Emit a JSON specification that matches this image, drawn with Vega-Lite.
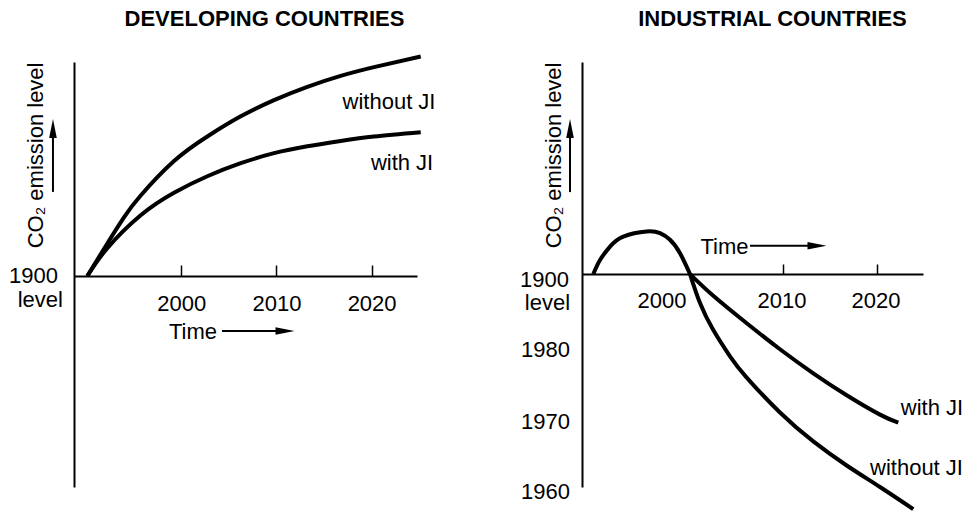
{
  "$schema": "https://vega.github.io/schema/vega-lite/v6.json",
  "autosize": {"type": "none"},
  "padding": {"left": 74, "top": 62, "right": 900, "bottom": 454},
  "bounds": "flush",
  "spacing": 165,
  "config": {
    "font": "Liberation Sans",
    "view": {"stroke": null},
    "text": {"fontSize": 22, "color": "black"}
  },
  "datasets": {
    "devCurves": [
      {"year": 1990.13, "level": 0, "scenario": "without JI"},
      {"year": 1992.23, "level": 15.2, "scenario": "without JI"},
      {"year": 1993.98, "level": 27.4, "scenario": "without JI"},
      {"year": 1995.74, "level": 37.6, "scenario": "without JI"},
      {"year": 1999.24, "level": 53.7, "scenario": "without JI"},
      {"year": 2002.74, "level": 65.2, "scenario": "without JI"},
      {"year": 2006.25, "level": 74.6, "scenario": "without JI"},
      {"year": 2009.75, "level": 82.2, "scenario": "without JI"},
      {"year": 2013.25, "level": 88.4, "scenario": "without JI"},
      {"year": 2016.75, "level": 93.5, "scenario": "without JI"},
      {"year": 2020.25, "level": 97.6, "scenario": "without JI"},
      {"year": 2025.16, "level": 102.6, "scenario": "without JI"},
      {"year": 1990.13, "level": 0, "scenario": "with JI"},
      {"year": 1992.23, "level": 13.0, "scenario": "with JI"},
      {"year": 1995.74, "level": 28.4, "scenario": "with JI"},
      {"year": 1999.24, "level": 38.9, "scenario": "with JI"},
      {"year": 2002.74, "level": 46.6, "scenario": "with JI"},
      {"year": 2006.25, "level": 52.7, "scenario": "with JI"},
      {"year": 2009.75, "level": 57.4, "scenario": "with JI"},
      {"year": 2013.25, "level": 60.6, "scenario": "with JI"},
      {"year": 2016.75, "level": 63.1, "scenario": "with JI"},
      {"year": 2020.25, "level": 65.2, "scenario": "with JI"},
      {"year": 2025.16, "level": 67.2, "scenario": "with JI"}
    ],
    "devLabels": [
      {"year": 2021.83, "level": 81.3, "label": "without JI"},
      {"year": 2023.2, "level": 52.8, "label": "with JI"},
      {"year": 2001.23, "level": -26.2, "label": "Time"}
    ],
    "devSide": [
      {"year": 1987.04, "level": 0, "label": "1900"},
      {"year": 1987.57, "level": -11.2, "label": "level"}
    ],
    "devArrowLines": [
      {"year": 2004.28, "level": -25.7, "year2": 2010.38, "level2": -25.7},
      {"year": 1986.52, "level": 39.3, "year2": 1986.52, "level2": 69.2}
    ],
    "devArrowHeads": [
      {"year": 2010.9, "level": -25.7, "dir": "right"},
      {"year": 1986.52, "level": 68.9, "dir": "up"}
    ],
    "indHump": [
      {"year": 1989.88, "level": 0},
      {"year": 1990.59, "level": 6.6},
      {"year": 1991.65, "level": 12.9},
      {"year": 1993.06, "level": 17.6},
      {"year": 1995.54, "level": 20.0},
      {"year": 1996.95, "level": 19.2},
      {"year": 1998.01, "level": 16.1},
      {"year": 1999.07, "level": 9.8},
      {"year": 2000.13, "level": 0}
    ],
    "indCurves": [
      {"year": 2000.13, "level": 0, "scenario": "with JI"},
      {"year": 2002.6, "level": -10.2, "scenario": "with JI"},
      {"year": 2006.14, "level": -23.1, "scenario": "with JI"},
      {"year": 2009.67, "level": -35.3, "scenario": "with JI"},
      {"year": 2013.2, "level": -46.6, "scenario": "with JI"},
      {"year": 2016.74, "level": -56.9, "scenario": "with JI"},
      {"year": 2020.27, "level": -66.0, "scenario": "with JI"},
      {"year": 2022.21, "level": -69.8, "scenario": "with JI"},
      {"year": 2000.13, "level": 0, "scenario": "without JI"},
      {"year": 2001.19, "level": -13.6, "scenario": "without JI"},
      {"year": 2002.6, "level": -26.3, "scenario": "without JI"},
      {"year": 2004.37, "level": -38.6, "scenario": "without JI"},
      {"year": 2006.14, "level": -48.6, "scenario": "without JI"},
      {"year": 2009.67, "level": -65.0, "scenario": "without JI"},
      {"year": 2013.2, "level": -78.6, "scenario": "without JI"},
      {"year": 2016.74, "level": -89.9, "scenario": "without JI"},
      {"year": 2020.27, "level": -100.0, "scenario": "without JI"},
      {"year": 2023.8, "level": -110.4, "scenario": "without JI"}
    ],
    "indLabels": [
      {"year": 2025.78, "level": -62.9, "label": "with JI"},
      {"year": 2024.14, "level": -91.1, "label": "without JI"},
      {"year": 2003.79, "level": 12.7, "label": "Time"},
      {"year": 1997.16, "level": -12.6, "label": "2000"},
      {"year": 2009.88, "level": -12.6, "label": "2010"},
      {"year": 2019.85, "level": -12.6, "label": "2020"}
    ],
    "indSide": [
      {"year": 1987.3, "level": -2.9, "label": "1900"},
      {"year": 1987.41, "level": -13.6, "label": "level"},
      {"year": 1987.41, "level": -35.7, "label": "1980"},
      {"year": 1987.41, "level": -69.5, "label": "1970"},
      {"year": 1987.41, "level": -102.4, "label": "1960"}
    ],
    "indArrowLines": [
      {"year": 2006.49, "level": 13.3, "year2": 2012.85, "level2": 13.3},
      {"year": 1987.41, "level": 38.5, "year2": 1987.41, "level2": 68.6}
    ],
    "indArrowHeads": [
      {"year": 2013.59, "level": 13.3, "dir": "right"},
      {"year": 1987.41, "level": 68.4, "dir": "up"}
    ]
  },
  "hconcat": [
    {
      "title": {"text": "DEVELOPING COUNTRIES", "fontSize": 22, "fontWeight": "bold", "color": "black", "anchor": "middle", "frame": "group", "dx": 19, "baseline": "alphabetic", "offset": 0},
      "width": 343,
      "height": 425,
      "encoding": {
        "x": {"field": "year", "type": "quantitative",
          "scale": {"domain": [1988.73, 2024.77], "zero": false, "nice": false},
          "axis": {"values": [2000, 2010, 2020], "format": "d", "title": null, "grid": false,
            "offset": -211, "domainColor": "black", "domainWidth": 2,
            "tickColor": "black", "tickWidth": 1.5, "tickSize": -11,
            "labelFontSize": 22, "labelColor": "black", "labelPadding": 28,
            "labelFlush": false, "labelOverlap": false}},
        "y": {"field": "level", "type": "quantitative",
          "scale": {"domain": [-98.6, 100], "zero": false, "nice": false},
          "axis": {"title": "CO₂ emission level", "titleFontSize": 22, "titleFontWeight": "normal",
            "titleColor": "black", "titleAnchor": "end", "titlePadding": 27,
            "ticks": false, "labels": false, "grid": false,
            "domainColor": "black", "domainWidth": 2}}
      },
      "layer": [
        {"data": {"name": "devCurves"},
         "mark": {"type": "line", "interpolate": "natural", "strokeWidth": 4, "color": "black"},
         "encoding": {"detail": {"field": "scenario"}}},
        {"data": {"name": "devLabels"},
         "mark": {"type": "text", "align": "center", "baseline": "middle", "fontSize": 22, "color": "black"},
         "encoding": {"text": {"field": "label"}}},
        {"data": {"name": "devSide"},
         "mark": {"type": "text", "align": "right", "baseline": "middle", "fontSize": 22, "color": "black"},
         "encoding": {"text": {"field": "label"}}},
        {"data": {"name": "devArrowLines"},
         "mark": {"type": "rule", "strokeWidth": 2, "color": "black"},
         "encoding": {"x2": {"field": "year2"}, "y2": {"field": "level2"}}},
        {"data": {"name": "devArrowHeads"},
         "mark": {"type": "point", "filled": true, "color": "black", "opacity": 1, "size": 361, "strokeWidth": 0},
         "encoding": {"shape": {"field": "dir", "type": "nominal", "legend": null,
           "scale": {"domain": ["right", "up"], "range": ["M1,0L-1,-0.4L-1,0.4Z", "M0,-1L-0.4,1L0.4,1Z"]}}}}
      ]
    },
    {
      "title": {"text": "INDUSTRIAL COUNTRIES", "fontSize": 22, "fontWeight": "bold", "color": "black", "anchor": "middle", "frame": "group", "dx": 20, "baseline": "alphabetic", "offset": 14},
      "width": 341,
      "height": 425,
      "encoding": {
        "x": {"field": "year", "type": "quantitative",
          "scale": {"domain": [1988.68, 2024.83], "zero": false, "nice": false},
          "axis": {"values": [2010, 2020], "labels": false, "title": null, "grid": false,
            "offset": -213, "domainColor": "black", "domainWidth": 2,
            "tickColor": "black", "tickWidth": 1.5, "tickSize": -10}},
        "y": {"field": "level", "type": "quantitative",
          "scale": {"domain": [-100, 99.6], "zero": false, "nice": false},
          "axis": {"title": "CO₂ emission level", "titleFontSize": 22, "titleFontWeight": "normal",
            "titleColor": "black", "titleAnchor": "end", "titlePadding": 17,
            "ticks": false, "labels": false, "grid": false,
            "domainColor": "black", "domainWidth": 2}}
      },
      "layer": [
        {"data": {"name": "indHump"},
         "mark": {"type": "line", "interpolate": "natural", "strokeWidth": 4, "color": "black"}},
        {"data": {"name": "indCurves"},
         "mark": {"type": "line", "interpolate": "natural", "strokeWidth": 4, "color": "black"},
         "encoding": {"detail": {"field": "scenario"}}},
        {"data": {"name": "indLabels"},
         "mark": {"type": "text", "align": "center", "baseline": "middle", "fontSize": 22, "color": "black"},
         "encoding": {"text": {"field": "label"}}},
        {"data": {"name": "indSide"},
         "mark": {"type": "text", "align": "right", "baseline": "middle", "fontSize": 22, "color": "black"},
         "encoding": {"text": {"field": "label"}}},
        {"data": {"name": "indArrowLines"},
         "mark": {"type": "rule", "strokeWidth": 2, "color": "black"},
         "encoding": {"x2": {"field": "year2"}, "y2": {"field": "level2"}}},
        {"data": {"name": "indArrowHeads"},
         "mark": {"type": "point", "filled": true, "color": "black", "opacity": 1, "size": 361, "strokeWidth": 0},
         "encoding": {"shape": {"field": "dir", "type": "nominal", "legend": null,
           "scale": {"domain": ["right", "up"], "range": ["M1,0L-1,-0.4L-1,0.4Z", "M0,-1L-0.4,1L0.4,1Z"]}}}}
      ]
    }
  ]
}
